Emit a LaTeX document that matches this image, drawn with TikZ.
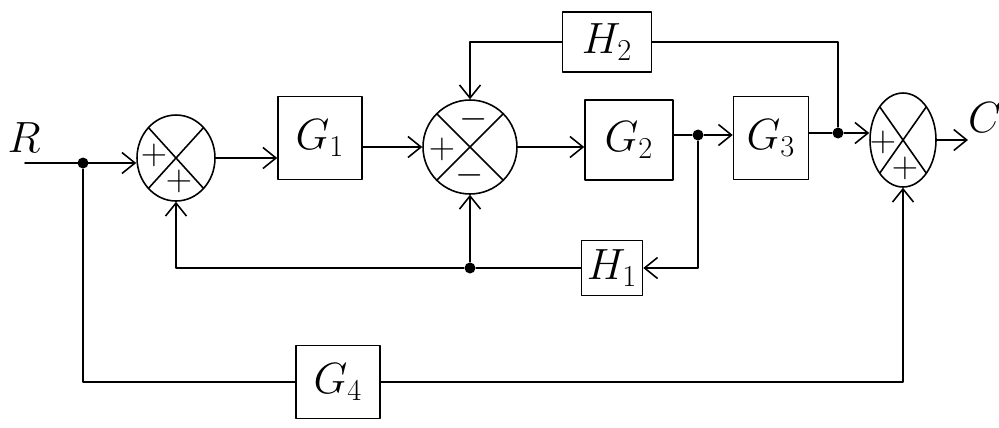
\documentclass[tikz,border=0pt]{standalone}
\usetikzlibrary{arrows.meta,shapes.geometric}
\begin{document}
\begin{tikzpicture}[x=0.02cm, y=-0.02cm, line join=round, line cap=round, line width=0.9pt, >={Straight Barb[length=2.6mm,width=4.2mm]}]
                \tikzset{b/.style={draw,rectangle,inner sep=0pt,font=\fontsize{24}{28}\selectfont},
                    sj/.style={draw,ellipse,inner sep=0pt,path picture={\draw[line width=0.9pt](path picture bounding box.south west)--(path picture bounding box.north east)(path picture bounding box.north west)--(path picture bounding box.south east);}},
                    d/.style={circle,fill,inner sep=0pt,minimum size=2.2mm},
                    sg/.style={font=\huge,inner sep=0pt},
                    lb/.style={font=\fontsize{24}{28}\selectfont}}
                \useasboundingbox(0,0)rectangle(999,427);
                
                \node[lb](R)at(24,138){$R$};
                \node[lb](C)at(985,118){$C$};
                \coordinate(in)at(25,163);
                \node[sj,minimum width=1.56cm,minimum height=1.72cm](S1)at(176,158){};
                \node[b,minimum width=1.68cm,minimum height=1.66cm](G1)at(320,138){$G_1$};
                \node[sj,minimum width=1.88cm,minimum height=1.88cm](S2)at(470,147){};
                \node[b,minimum width=1.76cm,minimum height=1.6cm](G2)at(629,140){$G_2$};
                \node[b,minimum width=1.5cm,minimum height=1.66cm](G3)at(771,138){$G_3$};
                \node[sj,minimum width=1.32cm,minimum height=1.88cm](S3)at(903,140){};
                \coordinate(out)at(968,140);
                \node[b,minimum width=1.78cm,minimum height=1.2cm](H2)at(607,42){$H_2$};
                \node[b,minimum width=1.22cm,minimum height=1.1cm](H1)at(612,268){$H_1$};
                \node[b,minimum width=1.68cm,minimum height=1.46cm](G4)at(338,382){$G_4$};
                \node[d](dA)at(83,163){};
                \node[d](dB)at(698,135){};
                \node[d](dC)at(470,268){};
                \node[d](dD)at(838,133){};
                
                \path(S1)++(-22,-3)node[sg](p1){$+$} (S1)++(3,23)node[sg](p2){$+$};
                \path(S2)++(-28,2)node[sg](p3){$+$} (S2)++(4,-28)node[sg](m1){$-$} (S2)++(0,28)node[sg](m2){$-$};
                \path(S3)++(-20,2)node[sg](p4){$+$} (S3)++(2,28)node[sg](p5){$+$};
                
                \draw[->](in)--(in-|S1.west);
                \draw[->](S1.east)--(S1.east-|G1.west);
                \draw[->](G1.east|-S2.west)--(S2.west);
                \draw[->](S2.east)--(S2.east-|G2.west);
                \draw(G2.east|-dB)--(dB); \draw[->](dB)--(dB-|G3.west);
                \draw(G3.east|-dD)--(dD); \draw[->](dD)--(dD-|S3.west);
                \draw[->](S3.east)--(out);
                \draw(dD)|-(H2.east);
                \draw[->](H2.west)-|(S2.north);
                \draw[->](dB)|-(H1.east);
                \draw(H1.west)--(dC);
                \draw[->](dC)--(S2.south);
                \draw[->](dC)-|(S1.south);
                \draw(dA)|-(G4.west);
                \draw[->](G4.east)-|(S3.south);
            \end{tikzpicture}
\end{document}
